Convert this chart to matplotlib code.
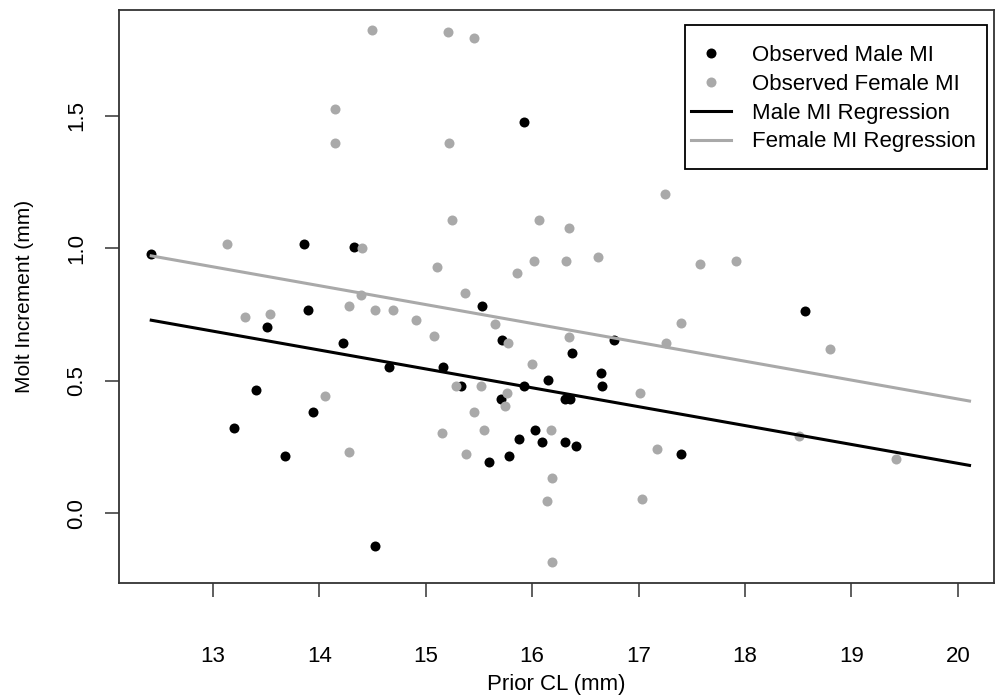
import numpy as np
import matplotlib
matplotlib.use("Agg")
from matplotlib import pyplot as plt
from matplotlib.patches import Rectangle

# Observed molt increments
male_cl = [12.42, 13.86, 14.33, 15.92, 13.89, 13.51, 14.22, 14.65, 13.40, 13.94,
           13.20, 13.68, 14.52, 15.53, 15.72, 16.77, 16.37, 15.16, 15.33, 15.92,
           16.15, 16.65, 16.66, 15.71, 16.31, 16.36, 16.03, 15.88, 16.09, 16.31,
           16.41, 15.78, 15.59, 17.40, 18.56]
male_mi = [0.978, 1.017, 1.006, 1.476, 0.768, 0.701, 0.642, 0.552, 0.465, 0.382,
           0.321, 0.215, -0.123, 0.781, 0.654, 0.652, 0.603, 0.550, 0.480, 0.480,
           0.502, 0.530, 0.480, 0.431, 0.431, 0.431, 0.314, 0.281, 0.270, 0.270,
           0.254, 0.215, 0.193, 0.222, 0.762]

female_cl = [14.49, 14.15, 14.15, 13.13, 14.40, 14.39, 15.21, 15.45, 15.22, 17.25,
             15.25, 16.06, 16.35, 15.11, 16.02, 16.32, 16.62, 15.86, 15.37, 17.58,
             17.92, 13.30, 13.54, 14.28, 14.52, 14.69, 14.91, 14.05, 14.28, 15.08,
             15.65, 15.77, 16.35, 17.26, 17.40, 16.00, 15.28, 15.52, 17.01, 15.76,
             15.74, 15.45, 15.15, 15.55, 16.18, 15.38, 17.17, 16.19, 16.14, 17.03,
             16.19, 18.80, 18.51, 19.42]
female_mi = [1.825, 1.526, 1.399, 1.017, 1.000, 0.822, 1.816, 1.793, 1.399, 1.205,
             1.107, 1.107, 1.078, 0.929, 0.951, 0.951, 0.968, 0.905, 0.830, 0.940,
             0.952, 0.742, 0.753, 0.781, 0.768, 0.768, 0.729, 0.442, 0.232, 0.669,
             0.714, 0.641, 0.664, 0.642, 0.719, 0.564, 0.480, 0.480, 0.452, 0.452,
             0.403, 0.380, 0.302, 0.314, 0.314, 0.222, 0.242, 0.131, 0.044, 0.054,
             -0.184, 0.618, 0.293, 0.203]

# Regression fits (common slope)
fit_range = [12.42, 20.11]
male_intercept, female_intercept, slope = 1.614, 1.857, -0.0713

x_ticks = [13, 14, 15, 16, 17, 18, 19, 20]
y_ticks = [0.0, 0.5, 1.0, 1.5]

plt.rcParams['font.family'] = ['Liberation Sans', 'DejaVu Sans']
grey = "#a9a9a9"

fig = plt.figure(figsize=(9.96, 6.95), dpi=100)
ax = fig.add_axes([119 / 996, 1 - 583 / 695, 875 / 996, 573 / 695])

ax.plot(male_cl, male_mi, "o", color="black", ms=7.2, mew=0, label="Observed Male MI")
ax.plot(female_cl, female_mi, "o", color=grey, ms=7.2, mew=0, label="Observed Female MI")

xs = np.array(fit_range)
ax.plot(xs, male_intercept + slope * xs, color="black", lw=2.2, label="Male MI Regression")
ax.plot(xs, female_intercept + slope * xs, color=grey, lw=2.2, label="Female MI Regression")

ax.set_xlim(12.117, 20.34)
ax.set_ylim(-0.264, 1.900)
ax.set_xticks(x_ticks)
ax.set_xticklabels([str(t) for t in x_ticks])
ax.set_yticks(y_ticks)
ax.set_yticklabels(["%.1f" % t for t in y_ticks], rotation=90, va="center")

for s in ax.spines.values():
    s.set_linewidth(1.3)
    s.set_color("#333333")
ax.tick_params(axis="both", length=10, width=1.1, color="#333333", labelsize=16)
ax.tick_params(axis="x", pad=35)
ax.tick_params(axis="y", pad=13)

ax.set_xlabel("Prior CL (mm)", fontsize=16)
ax.set_ylabel("Molt Increment (mm)", fontsize=15)
ax.xaxis.set_label_coords(0.5, -0.158)
ax.yaxis.set_label_coords(-0.097, 0.5)

# legend without its own frame; the box is drawn by hand to get R-like padding
leg = ax.legend(loc="upper right", bbox_to_anchor=(976 / 996, 1 - 45 / 695),
                bbox_transform=fig.transFigure, borderaxespad=0, borderpad=0,
                fontsize=16, frameon=False, handlelength=1.8, handletextpad=0.95,
                labelspacing=0.35, markerscale=1.0)
fig.canvas.draw()
bb = leg.get_window_extent()
x0, y0 = ax.transAxes.inverted().transform((bb.x0 - 6, bb.y0 - 17))
x1, y1 = ax.transAxes.inverted().transform((bb.x1 + 11, bb.y1 + 20))
ax.add_patch(Rectangle((x0, y0), x1 - x0, y1 - y0, transform=ax.transAxes,
                       facecolor="white", edgecolor="black", lw=1.3, zorder=4))

fig.savefig("out.png", dpi=100)
